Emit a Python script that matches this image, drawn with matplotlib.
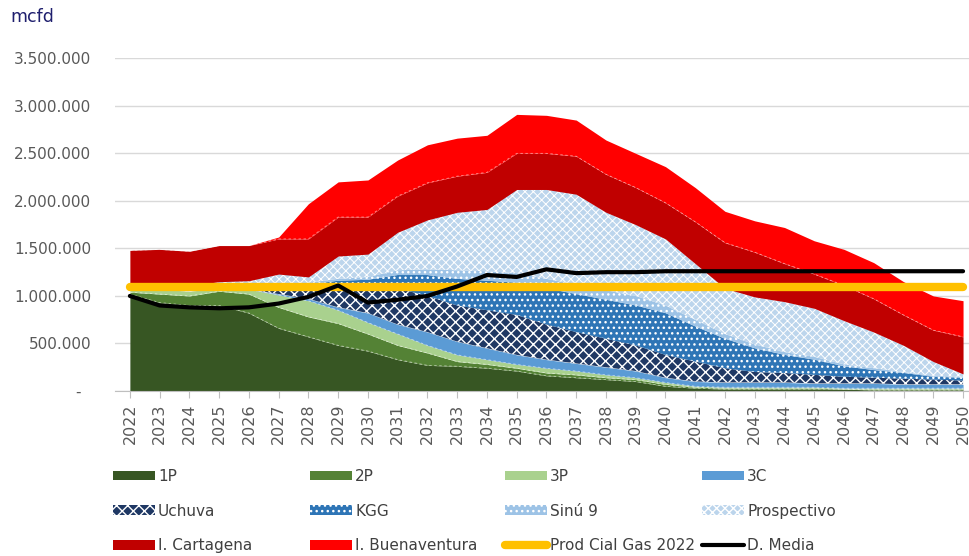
import numpy as np
import matplotlib
matplotlib.use("Agg")
import matplotlib.pyplot as plt
from matplotlib.ticker import FuncFormatter, FixedLocator

# ---------------- data (thousand mcfd) ----------------
years = list(range(2022, 2051))

p1 = [1020, 930, 900, 900, 820, 660, 570, 480, 420, 330, 270, 260, 240, 210, 160,
      140, 120, 100, 50, 30, 20, 20, 20, 20, 20, 10, 10, 10, 10]
p2 = [20, 90, 100, 150, 200, 220, 210, 230, 180, 150, 130, 50, 40, 30, 30,
      30, 20, 20, 20, 10, 10, 10, 10, 10, 0, 10, 10, 10, 10]
p3 = [40, 50, 50, 30, 50, 130, 170, 140, 120, 120, 80, 70, 50, 40, 50,
      40, 30, 20, 20, 10, 10, 10, 10, 10, 10, 10, 10, 10, 10]
c3 = [0, 0, 0, 0, 0, 10, 20, 30, 100, 100, 140, 140, 120, 100, 90,
      80, 80, 70, 50, 50, 50, 50, 50, 40, 50, 50, 40, 40, 40]
uchuva = [0, 0, 0, 0, 0, 40, 110, 240, 310, 380, 380, 380, 400, 420, 370,
          330, 300, 270, 240, 210, 150, 110, 100, 90, 70, 60, 60, 50, 40]
kgg = [0, 0, 0, 0, 10, 20, 40, 40, 40, 140, 220, 280, 310, 340, 380,
       400, 410, 420, 440, 370, 310, 250, 190, 160, 110, 80, 60, 30, 30]
sinu9 = [0, 0, 0, 0, 0, 10, 20, 20, 30, 50, 60, 90, 100, 100, 100,
         100, 100, 100, 80, 70, 50, 40, 30, 30, 20, 20, 10, 10, 10]
prospectivo = [40, 50, 60, 70, 80, 140, 60, 240, 240, 400, 520, 610, 650, 880, 940,
               950, 820, 750, 700, 590, 480, 500, 530, 510, 460, 380, 280, 150, 30]
cartagena = [360, 370, 360, 380, 370, 370, 400, 410, 390, 380, 390, 380, 390, 380, 380,
             400, 400, 390, 380, 440, 480, 470, 400, 360, 370, 350, 320, 330, 390]
buenaventura = [0, 0, 0, 0, 0, 20, 370, 370, 390, 380, 400, 400, 390, 410, 400,
                380, 360, 360, 380, 360, 330, 330, 380, 350, 380, 380, 350, 360, 380]
prod_cial_2022 = [1090] * 29
d_media = [1000, 900, 880, 870, 880, 920, 990, 1110, 930, 960, 1000, 1100, 1220, 1200, 1280,
           1240, 1250, 1250, 1260, 1260, 1260, 1260, 1260, 1260, 1260, 1260, 1260, 1260, 1260]

labels = ["1P", "2P", "3P", "3C", "Uchuva", "KGG", "Sinú 9", "Prospectivo",
          "I. Cartagena", "I. Buenaventura"]
colors = ["#375623", "#548235", "#A9D18E", "#5B9BD5", "#1F3864", "#2E75B6",
          "#9DC3E6", "#BCD5EC", "#C00000", "#FF0000"]
hatches = [None, None, None, None, "xxx", "...", "...", "xxxx", None, None]
hatch_lw = [None, None, None, None, 1.0, 1.0, 1.0, 0.7, None, None]

K = 1000.0
x = np.arange(len(years))
series = [np.array(s) * K for s in [p1, p2, p3, c3, uchuva, kgg, sinu9,
                                     prospectivo, cartagena, buenaventura]]

# ---------------- figure ----------------
fig = plt.figure(figsize=(9.69, 5.56), dpi=100)
ax = fig.add_axes([115 / 969, 165 / 556, 854 / 969, (391 - 58.3) / 556])

polys = ax.stackplot(x, *series, labels=labels, colors=colors, hatch=hatches,
                     edgecolor="white", linewidth=0, zorder=2)
for pc, hl in zip(polys, hatch_lw):
    if hl is not None:
        if hasattr(pc, "set_hatch_linewidth"):
            pc.set_hatch_linewidth(hl)
        else:
            pc._hatch_linewidth = hl

# faint dashed separators between some stacked layers (as in the original)
cum = np.cumsum(np.vstack(series), axis=0)
for i in [0, 1, 2, 8]:
    ax.plot(x, cum[i], color="white", lw=0.6, ls=(0, (3, 3)), alpha=0.55, zorder=2.5)

l_prod, = ax.plot(x, np.array(prod_cial_2022) * K, color="#FFC000", lw=6,
                  solid_capstyle="round", zorder=3, label="Prod Cial Gas 2022")
l_dem, = ax.plot(x, np.array(d_media) * K, color="black", lw=3,
                 solid_capstyle="round", zorder=4, label="D. Media")

ax.set_xlim(-0.5, 28.2)
ax.set_ylim(0, 3500000)

ax.yaxis.set_major_locator(FixedLocator(np.arange(0, 3500001, 500000)))
ax.yaxis.set_major_formatter(FuncFormatter(
    lambda v, p: "-  " if v == 0 else f"{int(v):,}".replace(",", ".")))
ax.yaxis.grid(True, color="#D9D9D9", lw=1)
ax.set_axisbelow(True)

ax.set_xticks(x)
ax.set_xticklabels([str(y) for y in years], rotation=90)

for s in ["left", "top", "right"]:
    ax.spines[s].set_visible(False)
ax.spines["bottom"].set_color("#BFBFBF")

ax.tick_params(axis="y", length=0, pad=17, labelsize=11, labelcolor="#595959")
ax.tick_params(axis="x", length=5, color="#BFBFBF", pad=4, labelsize=11.5,
               labelcolor="#595959")

fig.text(10 / 969, 1 - 17 / 556, "mcfd", va="center", ha="left",
         fontsize=12.5, color="#1F1F6E")

# ---------------- legend: 4 columns x 3 rows ----------------
handles = list(polys) + [l_prod, l_dem]
names = labels + ["Prod Cial Gas 2022", "D. Media"]
rows = [[0, 1, 2, 3], [4, 5, 6, 7], [8, 9, 10, 11]]
col_x = [113, 310, 505, 702]
for ci, cx in enumerate(col_x):
    idx = [r[ci] for r in rows]
    fig.legend([handles[i] for i in idx], [names[i] for i in idx],
               loc="upper left", bbox_to_anchor=(cx / 969, 1 - 469 / 556),
               frameon=False, fontsize=11, borderpad=0, borderaxespad=0,
               handlelength=2.75, handleheight=0.6, handletextpad=0.2,
               labelspacing=1.28, labelcolor="#404040")

fig.savefig("out.png", dpi=100)
